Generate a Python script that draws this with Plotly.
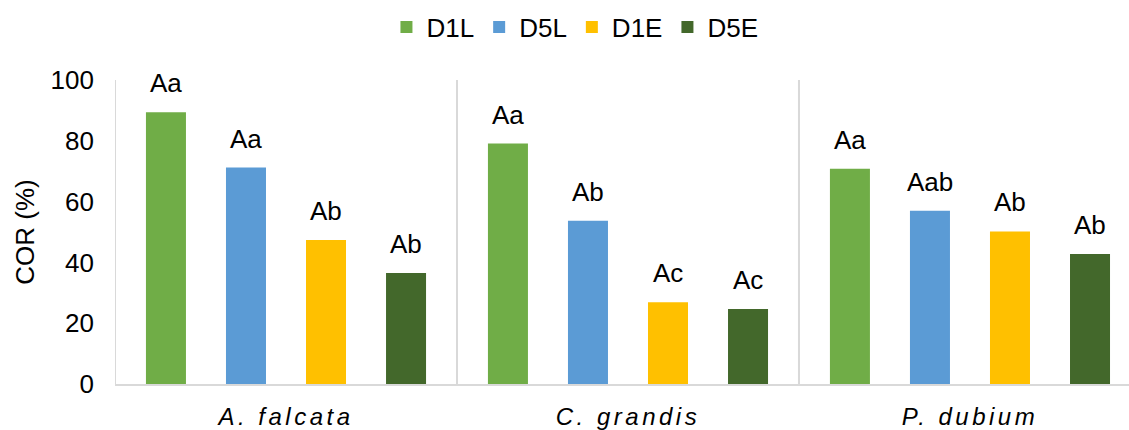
import plotly.graph_objects as go

# Germination data (COR, %) for three species under four treatments
species = ["A. falcata", "C. grandis", "P. dubium"]
treatments = ["D1L", "D5L", "D1E", "D5E"]

d1l = [89.4, 79.1, 70.8]
d5l = [71.2, 53.7, 57.0]
d1e = [47.4, 26.9, 50.2]
d5e = [36.5, 24.7, 42.8]

d1l_letters = ["Aa", "Aa", "Aa"]
d5l_letters = ["Aa", "Ab", "Aab"]
d1e_letters = ["Ab", "Ac", "Ab"]
d5e_letters = ["Ab", "Ac", "Ab"]

y_ticks = [0, 20, 40, 60, 80, 100]

colors = ["#70AD47", "#5B9BD5", "#FFC000", "#43682B"]
values = [d1l, d5l, d1e, d5e]
letters = [d1l_letters, d5l_letters, d1e_letters, d5e_letters]

FONT = "Liberation Sans, Arial, sans-serif"
GRID = "#D9D9D9"
BARGAP = 0.064
BARGROUPGAP = 0.5

fig = go.Figure()
for name, vals, col in zip(treatments, values, colors):
    fig.add_trace(go.Bar(x=species, y=vals, name=name, marker_color=col,
                         marker_line_width=0, hoverinfo="x+y+name"))

# letter labels above every bar, centred on each bar's slot within the group
slot = (1 - BARGAP) / len(treatments)
annotations = []
for si, (vals, labs) in enumerate(zip(values, letters)):
    for gi, (v, lab) in enumerate(zip(vals, labs)):
        annotations.append(dict(
            x=gi + (si - (len(treatments) - 1) / 2) * slot, y=v,
            xref="x", yref="y", text=lab, showarrow=False,
            yanchor="bottom", yshift=12,
            font=dict(family=FONT, size=26, color="#000000")))

# group separators, left axis line and small end ticks
shapes = []
for xv in [-0.5, 0.5, 1.5]:
    shapes.append(dict(type="line", xref="x", yref="y", x0=xv, x1=xv, y0=0, y1=100,
                       line=dict(color=GRID, width=2)))
for yv in [0, 100]:
    shapes.append(dict(type="line", xref="x", yref="y", xsizemode="pixel", xanchor=-0.5,
                       x0=-8, x1=0, y0=yv, y1=yv, line=dict(color=GRID, width=2)))

fig.update_layout(
    width=1129, height=430,
    margin=dict(l=115, r=0, t=80, b=46),
    paper_bgcolor="white", plot_bgcolor="white",
    barmode="group", bargap=BARGAP, bargroupgap=BARGROUPGAP,
    font=dict(family=FONT, size=26, color="#000000"),
    showlegend=True,
    legend=dict(orientation="h", x=0.4536, xanchor="center", y=1.174, yanchor="middle",
                font=dict(family=FONT, size=26, color="#000000"),
                itemwidth=30, tracegroupgap=0, bgcolor="rgba(0,0,0,0)"),
    annotations=annotations,
    shapes=shapes,
    xaxis=dict(type="category", range=[-0.5, 2.465], showgrid=False, zeroline=False,
               showline=True, linecolor=GRID, linewidth=2, ticks="",
               tickfont=dict(family=FONT, size=24, style="italic", color="#000000"),
               ticklabelstandoff=10),
    yaxis=dict(range=[0, 100], tickvals=y_ticks, showgrid=False, zeroline=False,
               showline=False, ticks="", ticklabelstandoff=20,
               tickfont=dict(family=FONT, size=26, color="#000000"),
               title=dict(text="COR (%)", standoff=8,
                          font=dict(family=FONT, size=26, color="#000000"))),
)

post = """
var gd = document.getElementById('{plot_id}');
function spaceTicks() {
  gd.querySelectorAll('.xtick text').forEach(function (t) { t.style.letterSpacing = '3.5px'; });
}
spaceTicks();
gd.on('plotly_afterplot', spaceTicks);
"""

fig.write_html("out.html", post_script=post)
